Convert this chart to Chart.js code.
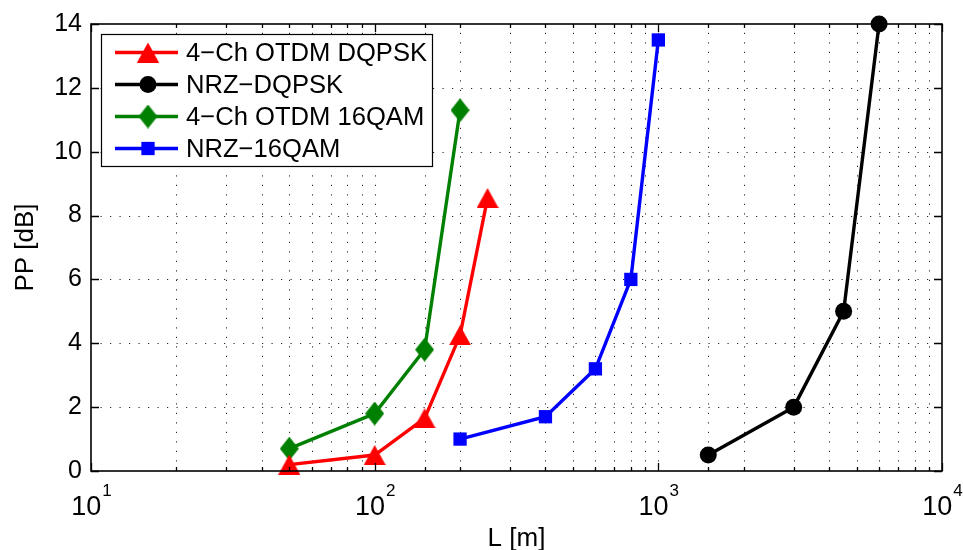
<!DOCTYPE html>
<html>
<head>
<meta charset="utf-8">
<script src="https://cdn.jsdelivr.net/npm/chart.js@4.4.1/dist/chart.umd.min.js"></script>
<style>
  html, body { margin: 0; padding: 0; background: #fff; }
  #wrap { width: 963px; height: 550px; }
</style>
</head>
<body>
<div id="wrap"><canvas id="c" width="963" height="550"></canvas></div>
<script>
// Fibre length L [m] and power penalty PP [dB] for each modulation scheme
const seriesNames = ['4\u2212Ch OTDM DQPSK', 'NRZ\u2212DQPSK', '4\u2212Ch OTDM 16QAM', 'NRZ\u221216QAM'];

const lenOtdmDqpsk = [50, 100, 150, 200, 250];
const ppOtdmDqpsk  = [0.2, 0.5, 1.65, 4.25, 8.55];

const lenNrzDqpsk = [1500, 3000, 4500, 6000];
const ppNrzDqpsk  = [0.5, 2.0, 5.0, 14.0];

const lenOtdm16qam = [50, 100, 150, 200];
const ppOtdm16qam  = [0.7, 1.8, 3.8, 11.3];

const lenNrz16qam = [200, 400, 600, 800, 1000];
const ppNrz16qam  = [1.0, 1.7, 3.2, 6.0, 13.5];

// Axis ranges and labelled decades
const xMin = 10, xMax = 10000;
const yMin = 0, yMax = 14, yStep = 2;
const xDecadeExponents = [1, 2, 3, 4];

const FONT = '"Liberation Sans", Arial, Helvetica, sans-serif';

function toPoints(xs, ys) {
  return xs.map((x, i) => ({ x: x, y: ys[i] }));
}

// Marker images: upward triangle and tall diamond, centred on their bounding box
function makeTriangle(color, w, h) {
  const c = document.createElement('canvas');
  c.width = w; c.height = h;
  const g = c.getContext('2d');
  g.fillStyle = color;
  g.beginPath();
  g.moveTo(w / 2, 0);
  g.lineTo(w, h);
  g.lineTo(0, h);
  g.closePath();
  g.fill();
  return c;
}
function makeDiamond(color, w, h) {
  const c = document.createElement('canvas');
  c.width = w; c.height = h;
  const g = c.getContext('2d');
  g.fillStyle = color;
  g.beginPath();
  g.moveTo(w / 2, 0);
  g.lineTo(w, h / 2);
  g.lineTo(w / 2, h);
  g.lineTo(0, h / 2);
  g.closePath();
  g.fill();
  return c;
}

const RED = '#ff0000', BLACK = '#000000', GREEN = '#008000', BLUE = '#0000ff';
const triRed = makeTriangle(RED, 22, 20);
const diaGreen = makeDiamond(GREEN, 19, 24);

function lineSeries(label, pts, color, style, radius) {
  return {
    label: label,
    data: pts,
    borderColor: color,
    backgroundColor: color,
    borderWidth: 3.4,
    pointStyle: style,
    pointRadius: radius,
    pointHoverRadius: radius,
    pointBorderWidth: 0,
    pointBackgroundColor: color,
    pointBorderColor: color,
    showLine: true,
    fill: false,
    tension: 0,
    clip: false
  };
}

const datasets = [
  lineSeries(seriesNames[0], toPoints(lenOtdmDqpsk, ppOtdmDqpsk), RED, triRed, 11),
  lineSeries(seriesNames[1], toPoints(lenNrzDqpsk, ppNrzDqpsk), BLACK, 'circle', 8.5),
  lineSeries(seriesNames[2], toPoints(lenOtdm16qam, ppOtdm16qam), GREEN, diaGreen, 11),
  lineSeries(seriesNames[3], toPoints(lenNrz16qam, ppNrz16qam), BLUE, 'rect', 9.4)
];

// Dotted grid behind the data
const gridPlugin = {
  id: 'dottedGrid',
  beforeDatasetsDraw(chart) {
    const { ctx, chartArea: a, scales } = chart;
    ctx.save();
    ctx.strokeStyle = 'rgba(0,0,0,0.85)';
    ctx.lineWidth = 1;
    ctx.setLineDash([1.2, 8.3]);
    scales.x.ticks.forEach(t => {
      if (t.value <= xMin || t.value >= xMax) return;
      const px = Math.round(scales.x.getPixelForValue(t.value)) + 0.5;
      ctx.beginPath();
      ctx.moveTo(px, a.bottom);
      ctx.lineTo(px, a.top);
      ctx.stroke();
    });
    scales.y.ticks.forEach(t => {
      if (t.value <= yMin || t.value >= yMax) return;
      const py = Math.round(scales.y.getPixelForValue(t.value)) + 0.5;
      ctx.beginPath();
      ctx.moveTo(a.left, py);
      ctx.lineTo(a.right, py);
      ctx.stroke();
    });
    ctx.restore();
  }
};

// Box, inward ticks, decade labels, axis titles and legend
const framePlugin = {
  id: 'frameAndText',
  afterDraw(chart) {
    const { ctx, chartArea: a, scales } = chart;
    ctx.save();
    ctx.setLineDash([]);
    ctx.strokeStyle = '#000';
    ctx.lineWidth = 1.3;

    // inward tick marks on all four sides
    ctx.beginPath();
    scales.x.ticks.forEach(t => {
      const px = Math.round(scales.x.getPixelForValue(t.value)) + 0.5;
      const major = Math.abs(Math.log10(t.value) - Math.round(Math.log10(t.value))) < 1e-9;
      const len = major ? 8 : 4;
      ctx.moveTo(px, a.bottom); ctx.lineTo(px, a.bottom - len);
      ctx.moveTo(px, a.top); ctx.lineTo(px, a.top + len);
    });
    scales.y.ticks.forEach(t => {
      const py = Math.round(scales.y.getPixelForValue(t.value)) + 0.5;
      ctx.moveTo(a.left, py); ctx.lineTo(a.left + 8, py);
      ctx.moveTo(a.right, py); ctx.lineTo(a.right - 8, py);
    });
    ctx.stroke();

    // frame
    ctx.lineWidth = 1.6;
    ctx.strokeRect(a.left, a.top, a.right - a.left, a.bottom - a.top);

    // x decade labels: 10 with superscript exponent
    ctx.fillStyle = '#000';
    ctx.textBaseline = 'alphabetic';
    ctx.textAlign = 'left';
    xDecadeExponents.forEach(e => {
      const px = scales.x.getPixelForValue(Math.pow(10, e));
      ctx.font = '27px ' + FONT;
      const wb = ctx.measureText('10').width;
      ctx.font = '17px ' + FONT;
      const we = ctx.measureText(String(e)).width;
      const x0 = px - (wb + we) / 2;
      ctx.font = '27px ' + FONT;
      ctx.fillText('10', x0, 515);
      ctx.font = '17px ' + FONT;
      ctx.fillText(String(e), x0 + wb + 1, 496);
    });

    // axis titles
    ctx.font = '26px ' + FONT;
    ctx.textAlign = 'center';
    ctx.fillText('L [m]', (a.left + a.right) / 2, 546);
    ctx.save();
    ctx.translate(33, (a.top + a.bottom) / 2);
    ctx.rotate(-Math.PI / 2);
    ctx.fillText('PP [dB]', 0, 0);
    ctx.restore();

    // legend box
    const lx = 101, ly = 34, lw = 331, lh = 132;
    ctx.fillStyle = '#fff';
    ctx.fillRect(lx, ly, lw, lh);
    ctx.lineWidth = 1.2;
    ctx.strokeStyle = '#000';
    ctx.strokeRect(lx + 0.5, ly + 0.5, lw, lh);
    const rows = [52.5, 84.5, 116.5, 148.5];
    chart.data.datasets.forEach((ds, i) => {
      const y = rows[i];
      ctx.strokeStyle = ds.borderColor;
      ctx.lineWidth = ds.borderWidth;
      ctx.beginPath();
      ctx.moveTo(115, y);
      ctx.lineTo(178, y);
      ctx.stroke();
      if (ds.pointStyle instanceof HTMLCanvasElement) {
        const im = ds.pointStyle;
        ctx.drawImage(im, 148 - im.width / 2, y - im.height / 2);
      } else {
        ctx.fillStyle = ds.pointBackgroundColor;
        ctx.strokeStyle = ds.pointBorderColor;
        Chart.helpers.drawPoint(ctx, {
          pointStyle: ds.pointStyle, radius: ds.pointRadius, rotation: 0, borderWidth: 0
        }, 148, y);
      }
      ctx.fillStyle = '#000';
      ctx.font = '25.6px ' + FONT;
      ctx.textAlign = 'left';
      ctx.textBaseline = 'middle';
      ctx.fillText(ds.label, 186, y + 1);
    });
    ctx.restore();
  }
};

new Chart(document.getElementById('c'), {
  type: 'line',
  data: { datasets: datasets },
  options: {
    responsive: false,
    animation: false,
    devicePixelRatio: 1,
    layout: { padding: { top: 24, right: 21, left: 0, bottom: 0 } },
    plugins: { legend: { display: false }, tooltip: { enabled: false } },
    scales: {
      x: {
        type: 'logarithmic',
        min: xMin,
        max: xMax,
        grid: { display: false, drawTicks: false },
        border: { display: false },
        ticks: { display: false, autoSkip: false },
        afterFit(scale) { scale.height = 79; }
      },
      y: {
        type: 'linear',
        min: yMin,
        max: yMax,
        grid: { display: false, drawTicks: false },
        border: { display: false },
        ticks: {
          stepSize: yStep,
          padding: 9,
          color: '#000',
          font: { family: FONT, size: 25 }
        },
        afterFit(scale) { scale.width = 91; }
      }
    }
  },
  plugins: [gridPlugin, framePlugin]
});
</script>
</body>
</html>
